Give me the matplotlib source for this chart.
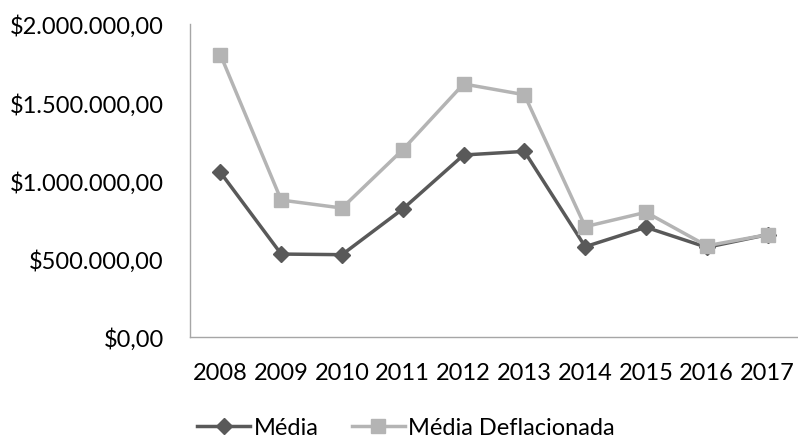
import matplotlib
matplotlib.use('Agg')
import matplotlib.pyplot as plt
from matplotlib.ticker import FuncFormatter

# Data
years = ['2008', '2009', '2010', '2011', '2012', '2013', '2014', '2015', '2016', '2017']
media = [1052000, 530000, 526000, 818000, 1163000, 1186000, 577000, 701000, 573000, 654000]
media_deflacionada = [1804000, 875000, 824000, 1197000, 1617000, 1548000, 705000, 797000, 583000, 654000]

plt.rcParams['font.family'] = ['Lato', 'DejaVu Sans']

fig = plt.figure(figsize=(7.98, 4.39), dpi=100)
ax = fig.add_axes([190 / 798, 1 - 338 / 439, 608 / 798, 313 / 439])

x = list(range(len(years)))
ax.plot(x, media, color='#595959', linewidth=2.5, marker='D', markersize=8.5, label='Média', zorder=2)
ax.plot(x, media_deflacionada, color='#b4b4b4', linewidth=2.5, marker='s', markersize=10.5, label='Média Deflacionada', zorder=3)


def brl(v, pos):
    s = f"{v:,.2f}"
    s = s.replace(',', 'X').replace('.', ',').replace('X', '.')
    return '$' + s


ax.yaxis.set_major_formatter(FuncFormatter(brl))
ax.set_ylim(0, 2000000)
ax.set_yticks([0, 500000, 1000000, 1500000, 2000000])
ax.set_xlim(-0.5, len(years) - 0.5)
ax.set_xticks(x)
ax.set_xticklabels(years)
ax.tick_params(axis='both', length=0, labelsize=17, colors='#000000')
ax.tick_params(axis='y', pad=19)
ax.tick_params(axis='x', pad=18)

for side in ['top', 'right']:
    ax.spines[side].set_visible(False)
for side in ['left', 'bottom']:
    ax.spines[side].set_color('#a6a6a6')
    ax.spines[side].set_linewidth(1)

fig.legend(loc='center left', bbox_to_anchor=(197 / 798, 1 - 429 / 439), ncol=2, frameon=False,
           fontsize=17, handlelength=2.25, handletextpad=0.15, columnspacing=1.4,
           borderaxespad=0, borderpad=0)

plt.savefig('out.png', dpi=100)
plt.close()
